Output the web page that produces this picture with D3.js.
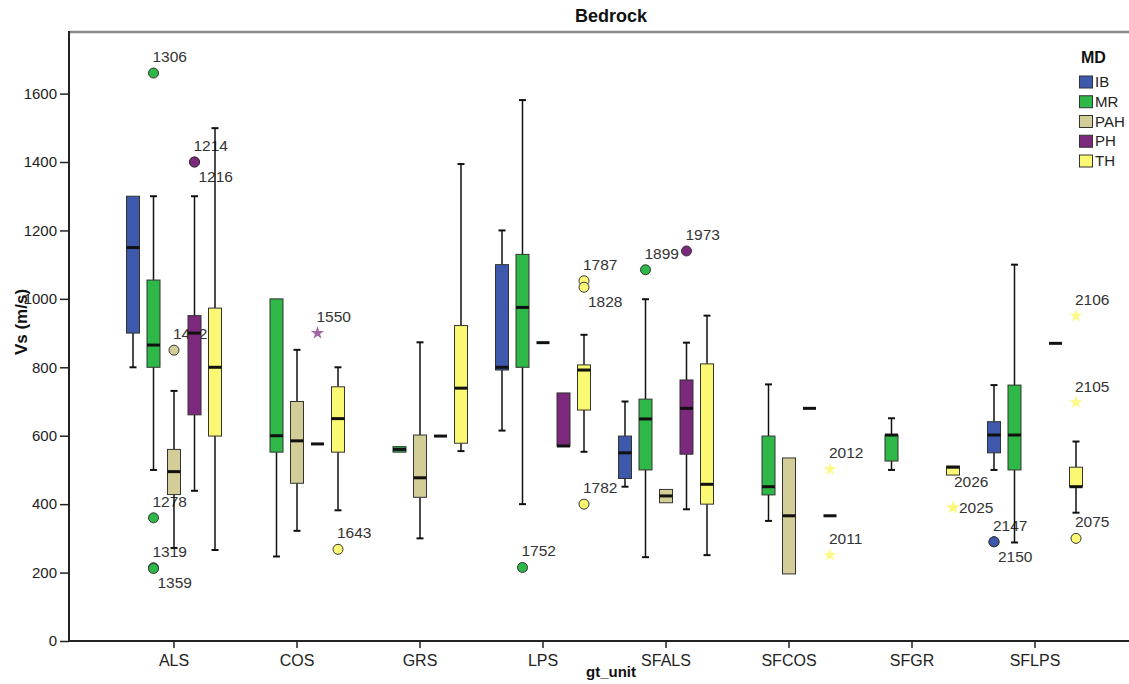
<!DOCTYPE html>
<html>
<head>
<meta charset="utf-8">
<script src="https://cdn.jsdelivr.net/npm/d3@7"></script>
<style>
  html, body { margin: 0; padding: 0; background: #fff; }
  svg { display: block; font-family: "Liberation Sans", Arial, sans-serif; }
</style>
</head>
<body>
<svg id="chart" width="1129" height="684"></svg>
<script>
// Geological units on the x axis, MD groups as the box series
const categories = ["ALS", "COS", "GRS", "LPS", "SFALS", "SFCOS", "SFGR", "SFLPS"];
const seriesNames = ["IB", "MR", "PAH", "PH", "TH"];
const seriesColors = ["#3e58ac", "#2eb848", "#d3ce97", "#7c287d", "#fbf873"];

// Box statistics per unit: [lower whisker, Q1, median, Q3, upper whisker]; null = no data
const ibStats = [[800, 900, 1150, 1300, 1300], null, null, [615, 792, 800, 1100, 1200],
  [451, 475, 550, 599, 700], null, null, [500, 550, 602, 641, 748]];
const mrStats = [[500, 800, 865, 1055, 1300], [247, 552, 600, 1000, 1000], [552, 552, 560, 568, 568],
  [400, 800, 975, 1130, 1581], [245, 500, 649, 707, 999], [351, 427, 451, 599, 750],
  [500, 526, 602, 602, 651], [288, 500, 602, 748, 1100]];
const pahStats = [[272, 428, 495, 560, 731], [322, 461, 585, 700, 851], [300, 420, 477, 602, 873],
  [872, 872, 872, 872, 872], [404, 404, 424, 443, 443], [196, 196, 366, 535, 535], null, null];
const phStats = [[439, 661, 900, 951, 1300], [576, 576, 576, 576, 576], [599, 599, 599, 599, 599],
  [570, 570, 570, 725, 725], [385, 546, 680, 763, 872], [680, 680, 680, 680, 680], null,
  [870, 870, 870, 870, 870]];
const thStats = [[266, 599, 800, 973, 1499], [382, 552, 650, 743, 800], [555, 578, 739, 922, 1394],
  [553, 675, 792, 807, 895], [251, 400, 458, 810, 951], [366, 366, 366, 366, 366],
  [485, 485, 508, 511, 511], [375, 451, 451, 508, 583]];
const statsBySeries = [ibStats, mrStats, pahStats, phStats, thStats];

// Outliers (circle) and extremes (star) with their case numbers
const outliers = [
  { cat: "ALS", series: "MR", value: 1660, id: "1306", shape: "circle", place: "above" },
  { cat: "ALS", series: "MR", value: 360, id: "1278", shape: "circle", place: "above" },
  { cat: "ALS", series: "MR", value: 214, id: "1319", shape: "circle", place: "above" },
  { cat: "ALS", series: "MR", value: 212, id: "1359", shape: "circle", place: "below" },
  { cat: "ALS", series: "PAH", value: 850, id: "1442", shape: "circle", place: "above" },
  { cat: "ALS", series: "PH", value: 1400, id: "1214", shape: "circle", place: "above" },
  { cat: "ALS", series: "PH", value: 1400, id: "1216", shape: "circle", place: "below" },
  { cat: "COS", series: "PH", value: 900, id: "1550", shape: "star", place: "above" },
  { cat: "COS", series: "TH", value: 268, id: "1643", shape: "circle", place: "above" },
  { cat: "LPS", series: "MR", value: 215, id: "1752", shape: "circle", place: "above" },
  { cat: "LPS", series: "TH", value: 1053, id: "1787", shape: "circle", place: "above" },
  { cat: "LPS", series: "TH", value: 1034, id: "1828", shape: "circle", place: "below" },
  { cat: "LPS", series: "TH", value: 400, id: "1782", shape: "circle", place: "above" },
  { cat: "SFALS", series: "MR", value: 1085, id: "1899", shape: "circle", place: "above" },
  { cat: "SFALS", series: "PH", value: 1140, id: "1973", shape: "circle", place: "above" },
  { cat: "SFCOS", series: "TH", value: 502, id: "2012", shape: "star", place: "above" },
  { cat: "SFCOS", series: "TH", value: 251, id: "2011", shape: "star", place: "above" },
  { cat: "SFGR", series: "TH", value: 390, id: "2026", shape: "star", place: "high" },
  { cat: "SFGR", series: "TH", value: 390, id: "2025", shape: "star", place: "right" },
  { cat: "SFLPS", series: "IB", value: 290, id: "2147", shape: "circle", place: "above" },
  { cat: "SFLPS", series: "IB", value: 290, id: "2150", shape: "circle", place: "below" },
  { cat: "SFLPS", series: "TH", value: 300, id: "2075", shape: "circle", place: "above" },
  { cat: "SFLPS", series: "TH", value: 697, id: "2105", shape: "star", place: "above" },
  { cat: "SFLPS", series: "TH", value: 950, id: "2106", shape: "star", place: "above" }
];

const yTicks = [0, 200, 400, 600, 800, 1000, 1200, 1400, 1600];

const svg = d3.select("#chart");
const W = 1129, H = 684;
const axisX = 69, axisY = 641, frameTop = 32;

const x0 = d3.scaleBand().domain(categories).range([112.5, 1096.5]);
const xs = d3.scalePoint().domain(seriesNames).range([-x0.bandwidth() / 3, x0.bandwidth() / 3]);
const y = d3.scaleLinear().domain([0, 1780]).range([axisY, frameTop]);
const color = d3.scaleOrdinal().domain(seriesNames).range(seriesColors);
const boxW = 13;
const capW = 7;
const cx = (cat, s) => x0(cat) + x0.bandwidth() / 2 + xs(s);

svg.append("rect").attr("width", W).attr("height", H).attr("fill", "#fff");

// Title
svg.append("text").attr("x", 611).attr("y", 22).attr("text-anchor", "middle")
  .attr("font-size", 18).attr("font-weight", "bold").attr("fill", "#111").text("Bedrock");

// Frame: grey top edge
svg.append("line").attr("x1", axisX).attr("x2", W).attr("y1", frameTop).attr("y2", frameTop)
  .attr("stroke", "#8a8a8a").attr("stroke-width", 2.5);

// Outliers and their labels go underneath the boxes
const offsets = {
  above: { dx: -1, dy: -11 },
  below: { dx: 4, dy: 20 },
  high: { dx: 1, dy: -21 },
  right: { dx: 6, dy: 5 }
};
const og = svg.append("g");
outliers.forEach(o => {
  const px = cx(o.cat, o.series), py = y(o.value);
  if (o.shape === "circle") {
    og.append("circle").attr("cx", px).attr("cy", py).attr("r", 5)
      .attr("fill", color(o.series)).attr("stroke", "#333").attr("stroke-width", 1);
  } else {
    og.append("path").attr("d", d3.symbol(d3.symbolStar, 55)())
      .attr("transform", `translate(${px},${py})`)
      .attr("fill", color(o.series)).attr("opacity", o.series === "PH" ? 0.7 : 0.85);
  }
  const off = offsets[o.place];
  og.append("text").attr("x", px + off.dx).attr("y", py + off.dy)
    .attr("font-size", 15.5).attr("fill", "#333").text(o.id);
});

// Boxes
const bg = svg.append("g");
seriesNames.forEach((s, si) => {
  statsBySeries[si].forEach((st, ci) => {
    if (!st) return;
    const cat = categories[ci];
    const c = cx(cat, s);
    const [lo, q1, med, q3, hi] = st;
    if (q1 === q3) {
      // single value: just a median bar
      bg.append("line").attr("x1", c - boxW / 2).attr("x2", c + boxW / 2)
        .attr("y1", y(med)).attr("y2", y(med)).attr("stroke", "#111").attr("stroke-width", 3);
      return;
    }
    // whiskers
    if (hi > q3) {
      bg.append("line").attr("x1", c).attr("x2", c).attr("y1", y(hi)).attr("y2", y(q3))
        .attr("stroke", "#111").attr("stroke-width", 1.5);
      bg.append("line").attr("x1", c - capW / 2).attr("x2", c + capW / 2)
        .attr("y1", y(hi)).attr("y2", y(hi)).attr("stroke", "#111").attr("stroke-width", 2);
    }
    if (lo < q1) {
      bg.append("line").attr("x1", c).attr("x2", c).attr("y1", y(q1)).attr("y2", y(lo))
        .attr("stroke", "#111").attr("stroke-width", 1.5);
      bg.append("line").attr("x1", c - capW / 2).attr("x2", c + capW / 2)
        .attr("y1", y(lo)).attr("y2", y(lo)).attr("stroke", "#111").attr("stroke-width", 2);
    }
    bg.append("rect").attr("x", c - boxW / 2).attr("width", boxW)
      .attr("y", y(q3)).attr("height", y(q1) - y(q3))
      .attr("fill", color(s)).attr("stroke", "#333").attr("stroke-width", 1);
    bg.append("line").attr("x1", c - boxW / 2).attr("x2", c + boxW / 2)
      .attr("y1", y(med)).attr("y2", y(med)).attr("stroke", "#111").attr("stroke-width", 3);
  });
});

// Y axis
const yAxis = svg.append("g").attr("transform", `translate(${axisX},0)`)
  .call(d3.axisLeft(y).tickValues(yTicks).tickSize(9).tickSizeOuter(0).tickPadding(3).tickFormat(d3.format("d")));
yAxis.select(".domain").remove();
yAxis.selectAll(".tick line").attr("stroke", "#222").attr("stroke-width", 1.5);
yAxis.selectAll(".tick text").attr("font-size", 15).attr("fill", "#222")
  .attr("font-family", "'Liberation Sans', Arial, sans-serif");
svg.append("line").attr("x1", axisX).attr("x2", axisX).attr("y1", frameTop - 1).attr("y2", axisY + 1)
  .attr("stroke", "#222").attr("stroke-width", 2);

// X axis
const xAxis = svg.append("g").attr("transform", `translate(0,${axisY})`)
  .call(d3.axisBottom(x0).tickSize(7).tickSizeOuter(0).tickPadding(7));
xAxis.select(".domain").remove();
xAxis.selectAll(".tick line").attr("stroke", "#222").attr("stroke-width", 1.5);
xAxis.selectAll(".tick text").attr("font-size", 16).attr("fill", "#222")
  .attr("font-family", "'Liberation Sans', Arial, sans-serif");
svg.append("line").attr("x1", axisX).attr("x2", W).attr("y1", axisY).attr("y2", axisY)
  .attr("stroke", "#222").attr("stroke-width", 2);

// Axis titles
svg.append("text").attr("transform", "translate(21,322) rotate(-90)")
  .attr("text-anchor", "middle").attr("dominant-baseline", "central")
  .attr("font-size", 17).attr("font-weight", "bold").attr("fill", "#111").text("Vs (m/s)");
svg.append("text").attr("x", 611).attr("y", 677).attr("text-anchor", "middle")
  .attr("font-size", 15).attr("font-weight", "bold").attr("fill", "#111").text("gt_unit");

// Legend
const lg = svg.append("g").attr("transform", "translate(1079,0)");
lg.append("text").attr("x", 2).attr("y", 63).attr("font-size", 16).attr("font-weight", "bold")
  .attr("fill", "#111").text("MD");
seriesNames.forEach((s, i) => {
  const top = 76 + i * 19.75;
  lg.append("rect").attr("x", 0.5).attr("y", top).attr("width", 13).attr("height", 12)
    .attr("fill", color(s)).attr("stroke", "#333").attr("stroke-width", 1);
  lg.append("text").attr("x", 16).attr("y", top + 11).attr("font-size", 15)
    .attr("fill", "#222").text(s);
});
</script>
</body>
</html>
